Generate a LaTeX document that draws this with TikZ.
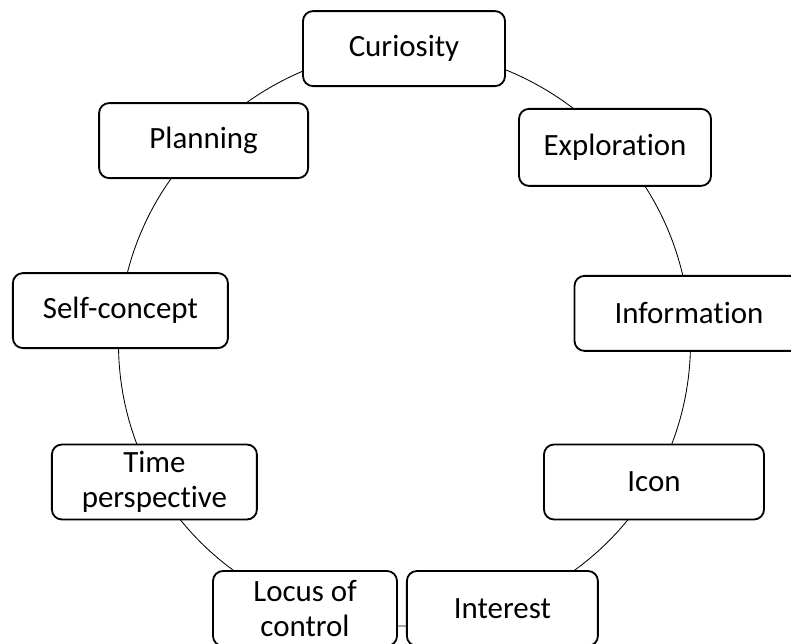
\documentclass[tikz,border=0pt]{standalone}
\usepackage{fontspec}
\setmainfont{Carlito}[Ligatures={NoCommon}]
\usetikzlibrary{backgrounds}

\begin{document}
\begin{tikzpicture}[stage/.style={draw=black,fill=white,line width=1.3pt,rounded corners=0.25cm,minimum height=1.875cm,align=center,inner sep=2pt,font=\fontsize{22}{24.6}\selectfont},
ring/.style={black,line width=0.6pt,looseness=0.88}]
\useasboundingbox (0,0) rectangle (19.775,16.075);
\node[stage,minimum width=5.05cm] (cur) at (10.1,14.86) {Curiosity};
\node[stage,minimum width=4.8cm,minimum height=1.925cm] (exp) at (15.375,12.39) {Exploration};
\node[stage,minimum width=5.725cm] (inf) at (17.225,8.24) {Information};
\node[stage,minimum width=5.5cm] (icon) at (16.35,4.025) {Icon};
\node[stage,minimum width=4.775cm] (int) at (12.56,0.8625) {Interest};
\node[stage,minimum width=4.6cm] (loc) at (7.625,0.8625) {Locus of\\control};
\node[stage,minimum width=5.125cm] (time) at (3.86,4.025) {Time\\perspective};
\node[stage,minimum width=5.375cm] (self) at (3.01,8.31) {Self-concept};
\node[stage,minimum width=5.225cm] (plan) at (5.09,12.56) {Planning};
\begin{scope}[on background layer]
\draw[ring] (cur.center) to[bend left=23.8] (exp.center);
\draw[ring] (exp.center) to[bend left=18.5] (inf.center);
\draw[ring] (inf.center) to[bend left=17.5] (icon.center);
\draw[ring] (icon.center) to[bend left=20.1] (int.center);
\draw[ring] (int.center) to[bend left=20.2] (loc.center);
\draw[ring] (loc.center) to[bend left=20.1] (time.center);
\draw[ring] (time.center) to[bend left=17.8] (self.center);
\draw[ring] (self.center) to[bend left=19.5] (plan.center);
\draw[ring] (plan.center) to[bend left=22.6] (cur.center);
\end{scope}
\end{tikzpicture}
\end{document}
